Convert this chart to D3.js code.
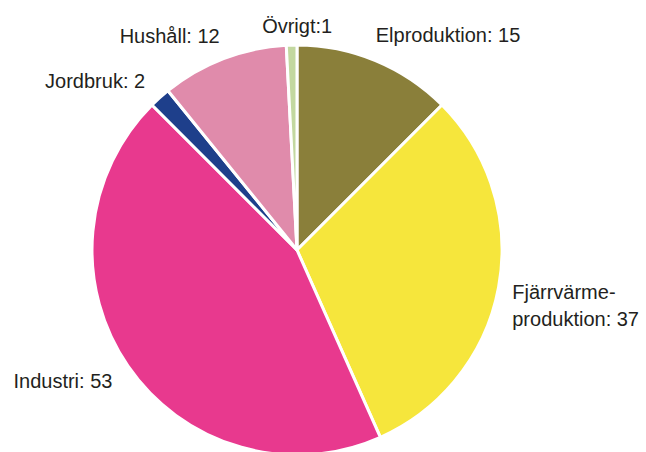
<!DOCTYPE html>
<html>
<head>
<meta charset="utf-8">
<script src="https://cdn.jsdelivr.net/npm/d3@7"></script>
<style>
  body { margin: 0; background: #fff; }
  text { font-family: "Liberation Sans", Arial, sans-serif; font-size: 20px; fill: #231f20; }
</style>
</head>
<body>
<div class="chart"></div>
<script>
// Sector shares, clockwise from 12 o'clock
var categories = ["Elproduktion", "Fjärrvärmeproduktion", "Industri", "Jordbruk", "Hushåll", "Övrigt"];
var values = [15, 37, 53, 2, 12, 1];
var labels = [["Elproduktion: 15"], ["Fjärrvärme-", "produktion: 37"], ["Industri: 53"], ["Jordbruk: 2"], ["Hushåll: 12"], ["Övrigt:1"]];
var colors = ["#8a7f3a", "#f6e63c", "#e8398e", "#1e3f8b", "#e08bab", "#c3d8a0"];

var svgWidth = 646;
var svgHeight = 452;
var radius = 205;
var cx = 297, cy = 250;

// small nudges so labels sit where the original put them
var nudge = {
    "Elproduktion": [-7, -8],
    "Fjärrvärmeproduktion": [-5, 15],
    "Industri": [0, 4],
    "Jordbruk": [-2, -3],
    "Hushåll": [3, -5],
    "Övrigt": [6, 0]
};

var svg = d3.select(".chart")
    .append("svg")
    .attr("width", svgWidth)
    .attr("height", svgHeight);

var chartGroup = svg.append("g")
    .attr("transform", `translate(${cx}, ${cy})`);

var data = categories.map((c, i) => ({ name: c, value: values[i], label: labels[i], color: colors[i] }));

var pie = d3.pie().value(d => d.value).sort(null);
var arc = d3.arc().innerRadius(0).outerRadius(radius);
var arcs = pie(data);

chartGroup.selectAll("path")
    .data(arcs)
    .enter()
    .append("path")
    .attr("d", arc)
    .attr("fill", d => d.data.color)
    .attr("stroke", "#fff")
    .attr("stroke-width", 3)
    .attr("stroke-linejoin", "round");

// label placement along the mid angle, just outside the pie
var labelR = 224;
chartGroup.selectAll(".lbl")
    .data(arcs)
    .enter()
    .append("text")
    .attr("class", "lbl")
    .each(function (d) {
        var a = (d.startAngle + d.endAngle) / 2;
        var off = nudge[d.data.name];
        var x = Math.sin(a) * labelR + off[0];
        var y = -Math.cos(a) * labelR + off[1];
        var anchor = Math.abs(x) < 30 ? "middle" : (x > 0 ? "start" : "end");
        var t = d3.select(this)
            .attr("text-anchor", anchor);
        var n = d.data.label.length;
        d.data.label.forEach(function (line, i) {
            t.append("tspan")
                .attr("x", x)
                .attr("y", y + 7 + (i - (n - 1) / 2) * 27)
                .text(line);
        });
    });
</script>
</body>
</html>
